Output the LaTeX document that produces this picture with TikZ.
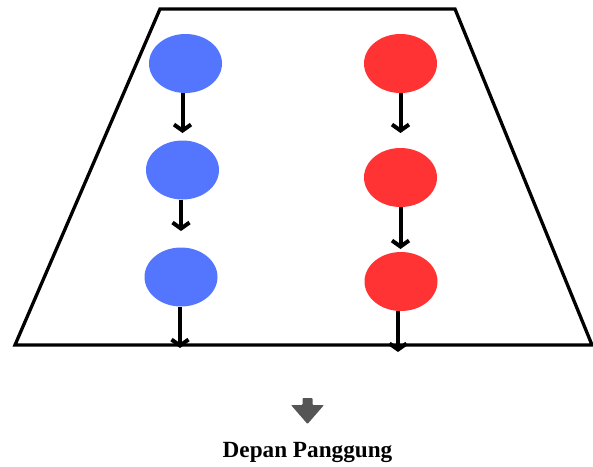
\documentclass[tikz,border=0pt]{standalone}
\usepackage{fontspec}
\setmainfont{Liberation Serif}
\usetikzlibrary{shapes.geometric,arrows.meta}
\definecolor{dotblue}{RGB}{84,118,255}
\definecolor{dotred}{RGB}{255,51,51}
\definecolor{pointgrey}{RGB}{85,85,85}
\tikzset{
  dancer/.style={ellipse,minimum width=73pt,minimum height=59pt,inner sep=0pt,draw=none},
  bluedot/.style={dancer,fill=dotblue},
  reddot/.style={dancer,fill=dotred},
  moveto/.style={line width=4pt,-{Straight Barb[length=6pt,width=17pt,line width=4pt]}},
  stageline/.style={line width=3.3pt,line join=miter}
}
\begin{document}
\begin{tikzpicture}[x=1pt,y=-1pt]
\useasboundingbox (0,0) rectangle (593,466);
% stage
\draw[stageline] (160,9) -- (455,9) -- (592,345) -- (15,345) -- cycle;
% blue column
\node[bluedot] (b1) at (185.5,63.5) {};
\node[bluedot] (b2) at (182.5,170) {};
\node[bluedot] (b3) at (181,277) {};
% red column
\node[reddot] (r1) at (400.5,63.5) {};
\node[reddot] (r2) at (400.5,177.5) {};
\node[reddot] (r3) at (401,281.5) {};
% arrow ends
\coordinate (eb1) at (182.5,133);
\coordinate (eb2) at (181,231);
\coordinate (eb3) at (180,348);
\coordinate (er1) at (400.5,133);
\coordinate (er2) at (400.5,249);
\coordinate (er3) at (398,352);
\draw[moveto] (b1.south -| eb1) -- (eb1);
\draw[moveto] (b2.south -| eb2) -- (eb2);
\draw[moveto] (b3.south -| eb3) -- (eb3);
\draw[moveto] (r1.south -| er1) -- (er1);
\draw[moveto] (r2.south -| er2) -- (er2);
\draw[moveto] (r3.south -| er3) -- (er3);
% front indicator
\fill[pointgrey,rounded corners=0.8pt] (302.5,398) -- (312.5,398) -- (312.5,405) -- (324,405) -- (307.5,424) -- (291,405) -- (302.5,405) -- cycle;
\node[font=\fontsize{23.2}{27}\selectfont\bfseries,inner sep=0pt,anchor=base] (front) at (307.5,457) {Depan Panggung};
\end{tikzpicture}
\end{document}
